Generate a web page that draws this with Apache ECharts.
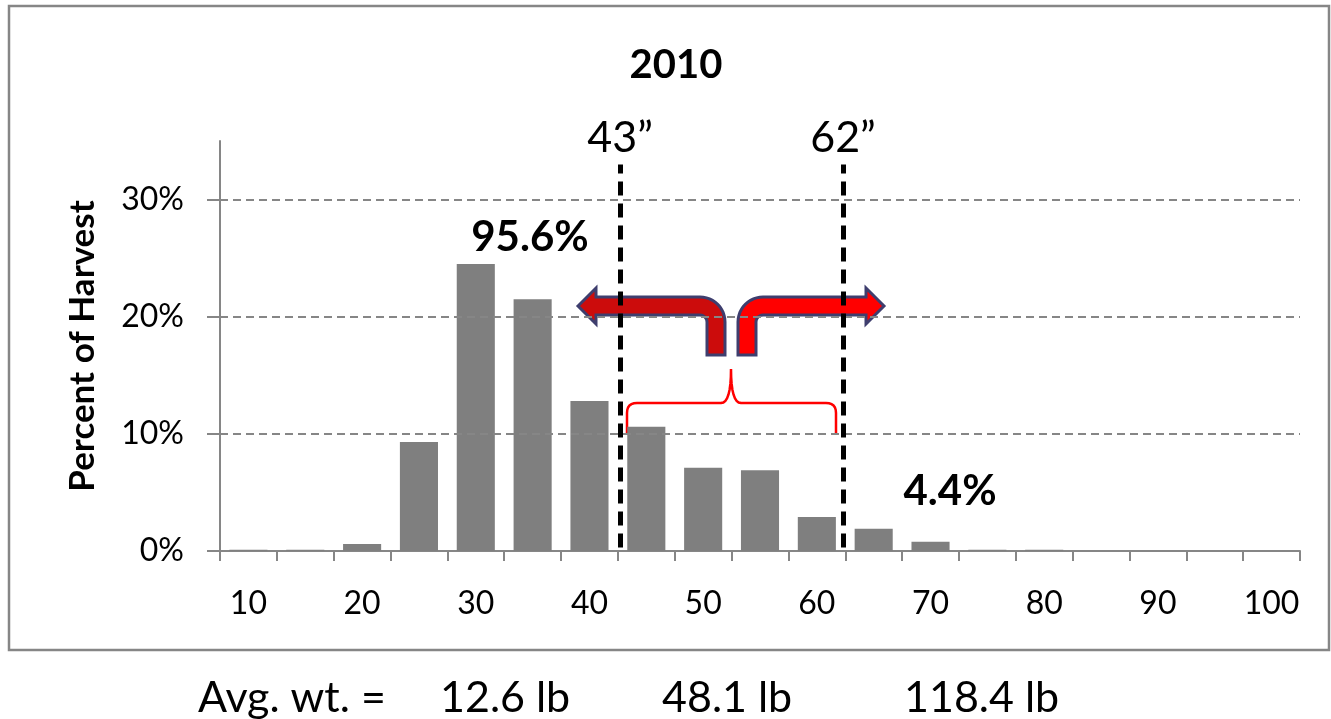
<!DOCTYPE html>
<html>
<head>
<meta charset="utf-8">
<script src="https://cdn.jsdelivr.net/npm/echarts@6/dist/echarts.min.js"></script>
<style>
html,body{margin:0;padding:0;background:#fff;}
#chart{width:1331px;height:719px;}
</style>
</head>
<body>
<div id="chart"></div>
<script>
// ---- data ----
const categories = ['10','15','20','25','30','35','40','45','50','55','60','65','70','75','80','85','90','95','100'];
const percentHarvest = [0.001,0.001,0.006,0.093,0.245,0.215,0.128,0.106,0.071,0.069,0.029,0.019,0.008,0.001,0.001,0,0,0,0];
const yTicks = [0, 0.1, 0.2, 0.3];
const cutoffsInches = [42.7, 62.3];
const cutoffLabels = ['43\u201d', '62\u201d'];
const titleText = '2010';
const shareBelow = '95.6%';
const shareAbove = '4.4%';
const avgWeightLabel = 'Avg. wt. =';
const avgWeights = ['12.6 lb', '48.1 lb', '118.4 lb'];

const FONT = 'Lato, "Open Sans", sans-serif';
const AXIS_GRAY = '#868686';

// helpers for decorative shapes
function arcPts(cx, cy, r, a0, a1, n) {
  const pts = [];
  for (let i = 0; i <= n; i++) {
    const a = (a0 + (a1 - a0) * i / n) * Math.PI / 180;
    pts.push([cx + r * Math.cos(a), cy + r * Math.sin(a)]);
  }
  return pts;
}
function quadPts(p0, c, p1, n) {
  const pts = [];
  for (let i = 0; i <= n; i++) {
    const t = i / n, u = 1 - t;
    pts.push([u*u*p0[0] + 2*u*t*c[0] + t*t*p1[0], u*u*p0[1] + 2*u*t*c[1] + t*t*p1[1]]);
  }
  return pts;
}
const leftArrow = [].concat(
  [[578,306],[596,288],[596,297]],
  arcPts(700,322,25,-90,0,12),
  [[725,355],[707,355]],
  arcPts(700,322,7,0,-90,6),
  [[596,315],[596,324]]
);
const rightArrow = [].concat(
  [[738,355]],
  arcPts(763,322,25,180,270,12),
  [[866,297],[866,288],[884,306],[866,324],[866,315]],
  arcPts(763,322,7,270,180,6),
  [[756,355]]
);
const brace = [].concat(
  [[627,433]],
  quadPts([627,413],[627,403],[637,403],6),
  quadPts([721,403],[731,403],[731,369],8),
  quadPts([731,369],[731,403],[741,403],8),
  quadPts([826,403],[836,403],[836,413],6),
  [[836,433]]
);

const chart = echarts.init(document.getElementById('chart'), null, {renderer: 'canvas'});

const cutoffLines = cutoffsInches.map((x, i) => [
  {coord: [x, 0.003], label: {formatter: cutoffLabels[i]}},
  {coord: [x, 0.33]}
]);

const option = {
  animation: false,
  backgroundColor: '#fff',
  grid: {left: 220, right: 31, top: 141, bottom: 168, containLabel: false},
  xAxis: [
    {
      type: 'category',
      data: categories,
      boundaryGap: true,
      axisLine: {lineStyle: {color: AXIS_GRAY, width: 2}},
      axisTick: {show: true, interval: 0, length: 10, lineStyle: {color: AXIS_GRAY, width: 2}},
      axisLabel: {interval: 1, color: '#000', fontFamily: FONT, fontSize: 32, margin: 37}
    },
    {
      type: 'value', min: 7.5, max: 102.5, show: false
    }
  ],
  yAxis: {
    type: 'value',
    min: 0, max: 0.35, interval: 0.1,
    axisLine: {show: true, lineStyle: {color: AXIS_GRAY, width: 2}},
    axisTick: {show: true, length: 13, inside: false, customValues: yTicks, lineStyle: {color: AXIS_GRAY, width: 2}},
    axisLabel: {customValues: yTicks, color: '#000', fontFamily: FONT, fontSize: 32, margin: 36,
      formatter: v => Math.round(v * 100) + '%'},
    splitLine: {show: false},
    name: 'Percent of Harvest',
    nameLocation: 'middle',
    nameGap: 120,
    nameRotate: 90,
    nameTextStyle: {color: '#000', fontFamily: FONT, fontWeight: 'bold', fontSize: 35}
  },
  series: [
    {
      type: 'line', xAxisIndex: 0, yAxisIndex: 0, data: [], z: 0,
      markLine: {
        silent: true, symbol: 'none', animation: false,
        label: {show: false},
        lineStyle: {color: AXIS_GRAY, type: [8, 5], width: 2},
        data: yTicks.filter(v => v > 0).map(v => ({yAxis: v}))
      }
    },
    {
      type: 'bar', xAxisIndex: 0, yAxisIndex: 0, data: percentHarvest, z: 2,
      barCategoryGap: '33%',
      itemStyle: {color: '#7f7f7f'}
    },
    {
      type: 'line', xAxisIndex: 1, yAxisIndex: 0, data: [], z: 5,
      markLine: {
        silent: true, symbol: 'none', animation: false,
        lineStyle: {color: '#000', type: [14, 8], width: 5},
        label: {show: true, position: 'end', distance: 5, color: '#000', fontFamily: FONT, fontSize: 43},
        data: cutoffLines
      }
    }
  ],
  graphic: [
    {type: 'rect', z: 0, shape: {x: 9, y: 6, width: 1320, height: 644},
      style: {fill: 'none', stroke: AXIS_GRAY, lineWidth: 2.5}},
    {type: 'text', z: 10, x: 676, y: 65,
      style: {text: titleText, font: 'bold 40px ' + FONT, fill: '#000', textAlign: 'center', textVerticalAlign: 'middle'}},
    {type: 'text', z: 10, x: 530, y: 237,
      style: {text: shareBelow, font: 'bold 42px ' + FONT, fill: '#000', textAlign: 'center', textVerticalAlign: 'middle'}},
    {type: 'text', z: 10, x: 950, y: 491,
      style: {text: shareAbove, font: 'bold 42px ' + FONT, fill: '#000', textAlign: 'center', textVerticalAlign: 'middle'}},
    {type: 'polygon', z: 1, shape: {points: leftArrow},
      style: {fill: '#cc0c0c', stroke: '#3e3e6e', lineWidth: 3}},
    {type: 'polygon', z: 1, shape: {points: rightArrow},
      style: {fill: '#ff0000', stroke: '#3e3e6e', lineWidth: 3}},
    {type: 'polyline', z: 1, shape: {points: brace},
      style: {fill: 'none', stroke: '#ff0000', lineWidth: 2.5}},
    {type: 'text', z: 10, x: 198, y: 698,
      style: {text: avgWeightLabel, font: '43px ' + FONT, fill: '#000', textAlign: 'left', textVerticalAlign: 'middle'}},
    {type: 'text', z: 10, x: 440, y: 698,
      style: {text: avgWeights[0], font: '43px ' + FONT, fill: '#000', textAlign: 'left', textVerticalAlign: 'middle'}},
    {type: 'text', z: 10, x: 662, y: 698,
      style: {text: avgWeights[1], font: '43px ' + FONT, fill: '#000', textAlign: 'left', textVerticalAlign: 'middle'}},
    {type: 'text', z: 10, x: 904, y: 698,
      style: {text: avgWeights[2], font: '43px ' + FONT, fill: '#000', textAlign: 'left', textVerticalAlign: 'middle'}}
  ]
};
chart.setOption(option);
</script>
</body>
</html>
